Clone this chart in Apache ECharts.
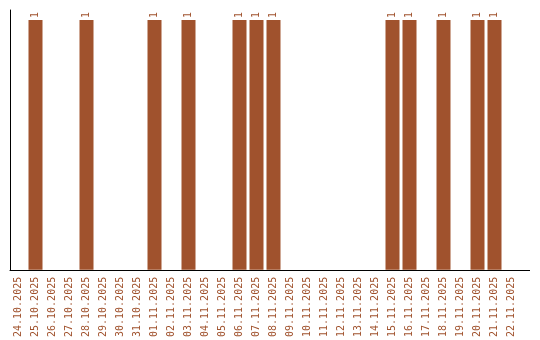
<!DOCTYPE html>
<html><head><meta charset="utf-8">
<script src="https://cdn.jsdelivr.net/npm/echarts@6/dist/echarts.min.js"></script>
<style>html,body{margin:0;padding:0;background:#fff}#c{width:540px;height:340px}</style>
</head><body><div id="c"></div>
<script>
const categories = ["24.10.2025","25.10.2025","26.10.2025","27.10.2025","28.10.2025","29.10.2025","30.10.2025","31.10.2025","01.11.2025","02.11.2025","03.11.2025","04.11.2025","05.11.2025","06.11.2025","07.11.2025","08.11.2025","09.11.2025","10.11.2025","11.11.2025","12.11.2025","13.11.2025","14.11.2025","15.11.2025","16.11.2025","17.11.2025","18.11.2025","19.11.2025","20.11.2025","21.11.2025","22.11.2025"];
const values = [null,1,null,null,1,null,null,null,1,null,1,null,null,1,1,1,null,null,null,null,null,null,1,1,null,1,null,1,1,null];
const brown = '#A0522D';
const chart = echarts.init(document.getElementById('c'));
chart.setOption({
  animation:false,
  grid:{left:10,right:20,top:10,bottom:70,containLabel:false},
  xAxis:{type:'category',data:categories,
    axisLine:{lineStyle:{color:'#000',width:1}},
    axisTick:{show:false},
    axisLabel:{rotate:90,interval:0,color:brown,fontFamily:'DejaVu Sans Mono',fontSize:10,margin:7}},
  yAxis:{type:'value',min:0,max:1.04,
    axisLine:{show:true,lineStyle:{color:'#000',width:1}},
    axisTick:{show:false},axisLabel:{show:false},splitLine:{show:false}},
  series:[{type:'bar',data:values,barWidth:14,itemStyle:{color:brown},
    label:{show:true,position:'top',rotate:90,align:'left',verticalAlign:'middle',distance:2,color:brown,fontFamily:'DejaVu Sans Mono',fontSize:10}}],
  graphic:[{type:'line',shape:{x1:520,y1:270.5,x2:530,y2:270.5},style:{stroke:'#000',lineWidth:1}}]
});
</script></body></html>
